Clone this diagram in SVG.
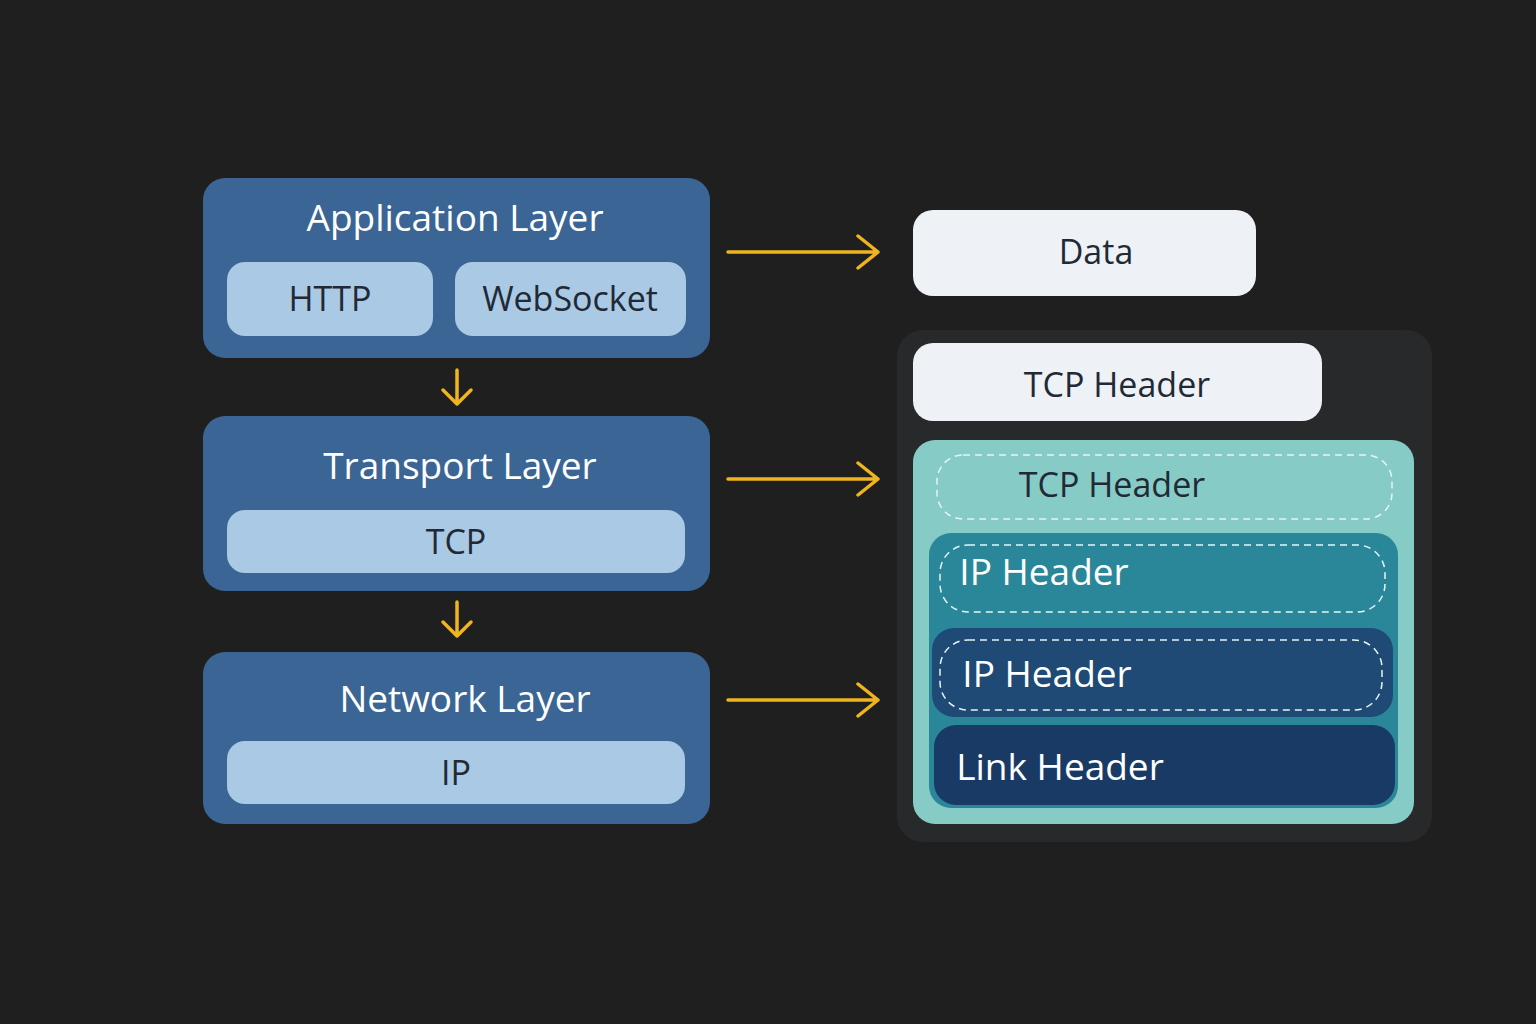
<svg xmlns="http://www.w3.org/2000/svg" width="1536" height="1024" viewBox="0 0 1536 1024">
<style>
text{font-family:"Open Sans","Noto Sans",sans-serif;text-anchor:middle}
.lay{fill:#3a6594}
.pill{fill:#a9c9e4}
.lt{fill:#fff;font-size:37px}
.pt{fill:#1f2a36;font-size:34px}
.wh{fill:#eef1f5}
.dash{fill:none;stroke:#e6f4f4;stroke-width:1.5;stroke-dasharray:7 5}
.arr{stroke:#f0b51e;stroke-width:3.5;fill:none;stroke-linecap:round;stroke-linejoin:round}
</style>
<rect width="1536" height="1024" fill="#1f1f20"/>
<g id="app"><rect class="lay" x="203" y="178" width="507" height="180" rx="22"/><text class="lt" x="455" y="231">Application Layer</text>
<rect class="pill" x="227" y="262" width="206" height="74" rx="18"/><text class="pt" x="330" y="311">HTTP</text>
<rect class="pill" x="455" y="262" width="231" height="74" rx="18"/><text class="pt" x="570" y="311">WebSocket</text></g>
<g id="transport"><rect class="lay" x="203" y="416" width="507" height="175" rx="22"/><text class="lt" x="460" y="479">Transport Layer</text>
<rect class="pill" x="227" y="510" width="458" height="63" rx="18"/><text class="pt" x="456" y="554">TCP</text></g>
<g id="network"><rect class="lay" x="203" y="652" width="507" height="172" rx="22"/><text class="lt" x="465" y="712">Network Layer</text>
<rect class="pill" x="227" y="741" width="458" height="63" rx="18"/><text class="pt" x="456" y="785">IP</text></g>
<g id="data"><rect class="wh" x="913" y="210" width="343" height="86" rx="20"/><text class="pt" x="1096" y="264">Data</text></g>
<g id="packet">
<rect x="897" y="330" width="535" height="512" rx="26" fill="#28292b"/>
<rect class="wh" x="913" y="343" width="409" height="78" rx="20"/><text class="pt" x="1117" y="397">TCP Header</text>
<rect x="913" y="440" width="501" height="384" rx="22" fill="#86cbc6"/>
<rect class="dash" x="937" y="455" width="455" height="64" rx="26"/><text class="pt" x="1112" y="497">TCP Header</text>
<rect x="929" y="533" width="469" height="275" rx="22" fill="#2a8799"/>
<rect class="dash" x="940" y="545" width="445" height="67" rx="28"/><text class="lt" x="1044" y="585">IP Header</text>
<rect x="932" y="628" width="461" height="89" rx="22" fill="#1f4a75"/>
<rect class="dash" x="940" y="640" width="442" height="70" rx="28"/><text class="lt" x="1047" y="687">IP Header</text>
<rect x="934" y="725" width="461" height="80" rx="22" fill="#1a3a66"/>
<text class="lt" x="1060" y="780">Link Header</text>
</g>
<g id="connectors">
<path class="arr" d="M728 252H878M858 236L878 252L858 268"/>
<path class="arr" d="M728 479H878M858 463L878 479L858 495"/>
<path class="arr" d="M728 700H878M858 684L878 700L858 716"/>
<path class="arr" d="M457 370V404M443 390L457 404L471 390"/>
<path class="arr" d="M457 602V636M443 622L457 636L471 622"/>
</g>
</svg>
